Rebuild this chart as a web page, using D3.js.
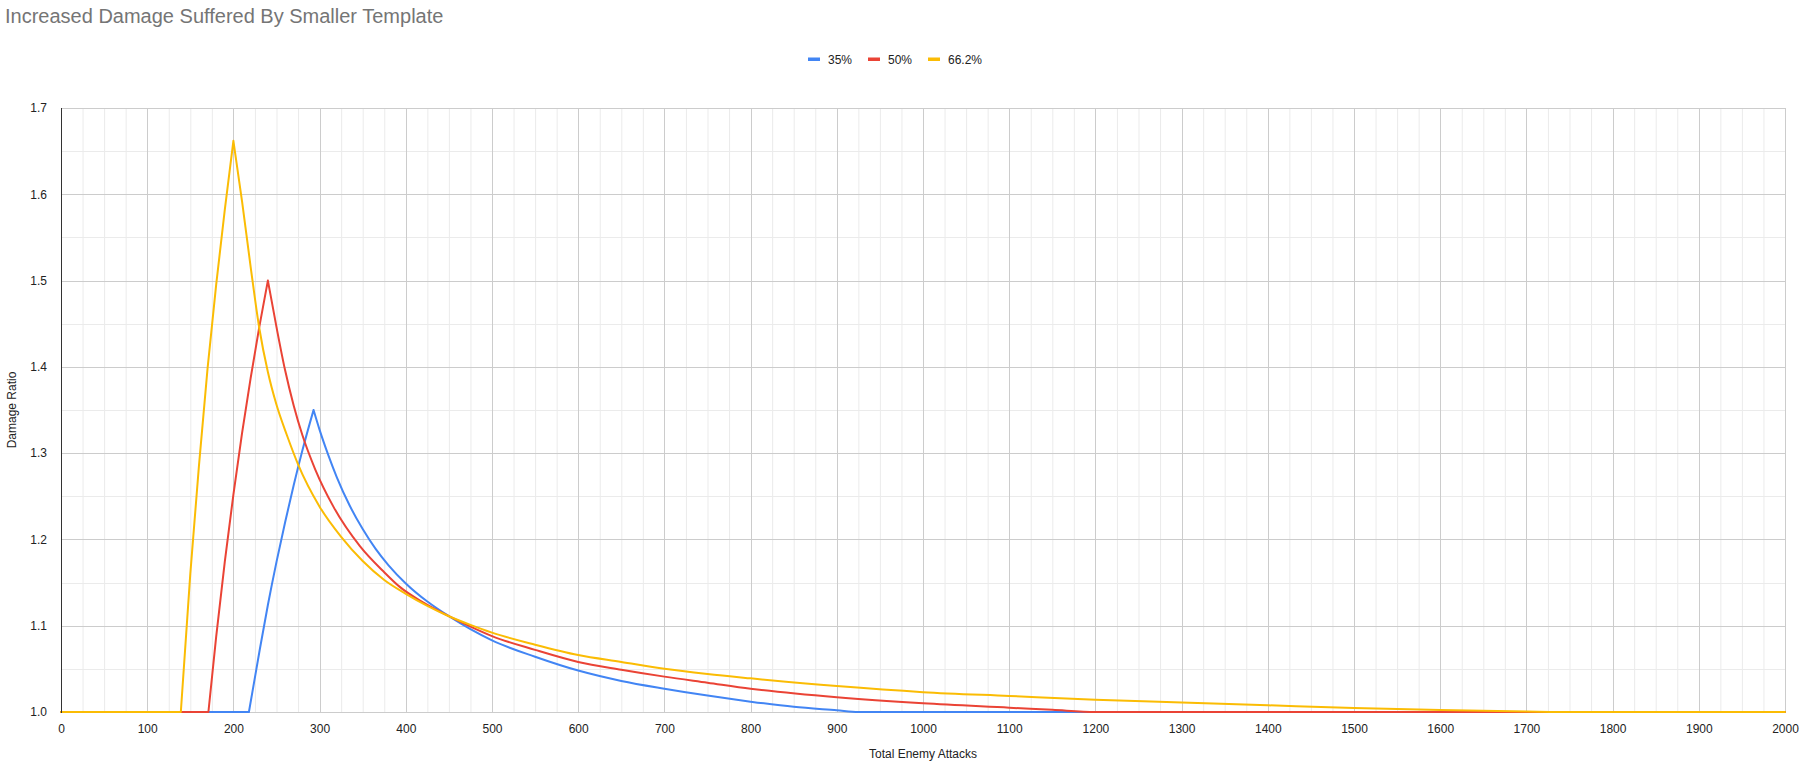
<!DOCTYPE html>
<html>
<head>
<meta charset="utf-8">
<script src="https://cdn.jsdelivr.net/npm/d3@7"></script>
<style>
  html, body { margin: 0; padding: 0; background: #fff; }
  svg { display: block; font-family: "Liberation Sans", Arial, sans-serif; }
</style>
</head>
<body>
<svg id="chart" width="1809" height="768"></svg>
<script>
// ---- data ----
const seriesNames = ["35%", "50%", "66.2%"];
const seriesColors = ["#4285F4", "#EA4335", "#FBBC04"];

const x35 = [0, 218, 230, 240, 250, 260, 270, 280, 293, 300, 310, 320, 335, 350, 365, 380, 400, 425, 450, 475, 500, 550, 600, 650, 700, 750, 800, 850, 900, 925, 2000];
const y35 = [1.0, 1.0, 1.069, 1.124, 1.174, 1.220, 1.263, 1.303, 1.350, 1.327, 1.298, 1.272, 1.239, 1.212, 1.189, 1.170, 1.149, 1.128, 1.111, 1.096, 1.083, 1.064, 1.048, 1.036, 1.027, 1.019, 1.012, 1.006, 1.002, 1.0, 1.0];

const x50 = [0, 171, 180, 190, 200, 210, 220, 230, 240, 250, 260, 270, 280, 295, 316, 347, 375, 393, 420, 450, 475, 500, 550, 600, 650, 700, 750, 800, 900, 1000, 1100, 1150, 1200, 2000];
const y50 = [1.0, 1.0, 1.087, 1.174, 1.252, 1.323, 1.387, 1.446, 1.500, 1.446, 1.396, 1.355, 1.321, 1.281, 1.238, 1.192, 1.162, 1.145, 1.127, 1.111, 1.099, 1.088, 1.072, 1.058, 1.049, 1.041, 1.034, 1.027, 1.017, 1.010, 1.005, 1.0025, 1.0, 1.0];

const x66 = [0, 139, 150, 160, 170, 180, 190, 200, 210, 220, 230, 240, 250, 262, 275, 300, 325, 350, 375, 400, 425, 450, 475, 500, 550, 600, 650, 700, 750, 800, 900, 1000, 1100, 1200, 1300, 1400, 1500, 1600, 1700, 1760, 2000];
const y66 = [1.0, 1.0, 1.160, 1.285, 1.398, 1.495, 1.582, 1.662, 1.592, 1.516, 1.445, 1.394, 1.356, 1.321, 1.287, 1.238, 1.203, 1.175, 1.153, 1.137, 1.123, 1.111, 1.101, 1.092, 1.078, 1.066, 1.058, 1.050, 1.044, 1.039, 1.030, 1.023, 1.0186, 1.0143, 1.011, 1.0078, 1.0047, 1.0023, 1.0006, 1.0, 1.0];

const xTicks = d3.range(0, 2001, 100);
const yTicks = [1.0, 1.1, 1.2, 1.3, 1.4, 1.5, 1.6, 1.7];
const xMinorTicks = d3.range(0, 2001, 25);
const yMinorTicks = d3.range(1.0, 1.701, 0.05);

const titleText = "Increased Damage Suffered By Smaller Template";
const xTitle = "Total Enemy Attacks";
const yTitle = "Damage Ratio";

// ---- layout ----
const svg = d3.select("#chart");
const L = 61, R = 1785, T = 108, B = 712;
const x = d3.scaleLinear().domain([0, 2000]).range([L, R]);
const y = d3.scaleLinear().domain([1.0, 1.7]).range([B, T]);

// minor gridlines
const grid = svg.append("g");
grid.selectAll("line.vmin").data(xMinorTicks.filter(v => v % 100 !== 0)).join("line")
  .attr("x1", d => x(d) + 0.5).attr("x2", d => x(d) + 0.5)
  .attr("y1", T).attr("y2", B).attr("stroke", "#ebebeb").attr("stroke-width", 1);
grid.selectAll("line.hmin").data(yMinorTicks.filter((v, i) => i % 2 === 1)).join("line")
  .attr("y1", d => Math.round(y(d)) + 0.5).attr("y2", d => Math.round(y(d)) + 0.5)
  .attr("x1", L).attr("x2", R).attr("stroke", "#ebebeb").attr("stroke-width", 1);
// major gridlines
grid.selectAll("line.vmaj").data(xTicks).join("line")
  .attr("x1", d => Math.round(x(d)) + 0.5).attr("x2", d => Math.round(x(d)) + 0.5)
  .attr("y1", T).attr("y2", B).attr("stroke", "#cccccc").attr("stroke-width", 1);
svg.append("g").selectAll("line").data(yTicks).join("line")
  .attr("y1", d => Math.round(y(d)) + 0.5).attr("y2", d => Math.round(y(d)) + 0.5)
  .attr("x1", L).attr("x2", R).attr("stroke", "#cccccc").attr("stroke-width", 1);

// axes via d3 axis generators (labels only)
const xAxis = d3.axisBottom(x).tickValues(xTicks).tickSize(0).tickPadding(12).tickFormat(d3.format("d"));
const gx = svg.append("g").attr("transform", `translate(0,${B})`).call(xAxis);
gx.select(".domain").remove();
gx.selectAll("text").attr("font-size", 12).attr("fill", "#222").attr("font-family", "Liberation Sans, Arial, sans-serif");

const yAxis = d3.axisLeft(y).tickValues(yTicks).tickSize(0).tickPadding(14).tickFormat(d3.format(".1f"));
const gy = svg.append("g").attr("transform", `translate(${L},0)`).call(yAxis);
gy.select(".domain").remove();
gy.selectAll("text").attr("font-size", 12).attr("fill", "#222").attr("font-family", "Liberation Sans, Arial, sans-serif");

// series
const series = [
  { xs: x35, ys: y35 },
  { xs: x50, ys: y50 },
  { xs: x66, ys: y66 }
];
const line = d3.line().x(d => x(d[0])).y(d => y(d[1])).curve(d3.curveMonotoneX);
series.forEach((s, i) => {
  const pts = s.xs.map((v, k) => [v, s.ys[k]]);
  // split at the start of the rise and at the peak so the corners stay sharp
  let start = pts.findIndex((p, k) => k < pts.length - 1 && pts[k + 1][1] > 1.0);
  let peak = d3.maxIndex(pts, p => p[1]);
  const pieces = [pts.slice(0, start + 1), pts.slice(start, peak + 1), pts.slice(peak)];
  const d = pieces.map(p => line(p)).join("");
  svg.append("path").attr("d", d).attr("fill", "none")
    .attr("stroke", seriesColors[i]).attr("stroke-width", 2)
    .attr("stroke-linejoin", "round").attr("stroke-linecap", "round");
});

// left axis line (x baseline at 0)
svg.append("line").attr("x1", L + 0.5).attr("x2", L + 0.5).attr("y1", T).attr("y2", B + 1)
  .attr("stroke", "#333").attr("stroke-width", 1);

// title
svg.append("text").attr("x", 5).attr("y", 23).text(titleText)
  .attr("font-size", 20).attr("fill", "#757575");

// legend
const legendX = [808, 868, 928];
const lg = svg.append("g");
seriesNames.forEach((n, i) => {
  lg.append("rect").attr("x", legendX[i]).attr("y", 57.5).attr("width", 12).attr("height", 3.5)
    .attr("fill", seriesColors[i]);
  lg.append("text").attr("x", legendX[i] + 20).attr("y", 63.5).text(n)
    .attr("font-size", 12).attr("fill", "#222");
});

// axis titles
svg.append("text").attr("x", (L + R) / 2).attr("y", 758).attr("text-anchor", "middle")
  .text(xTitle).attr("font-size", 12).attr("fill", "#222");
svg.append("text").attr("transform", `translate(16,${(T + B) / 2}) rotate(-90)`)
  .attr("text-anchor", "middle").text(yTitle).attr("font-size", 12).attr("fill", "#222");
</script>
</body>
</html>
